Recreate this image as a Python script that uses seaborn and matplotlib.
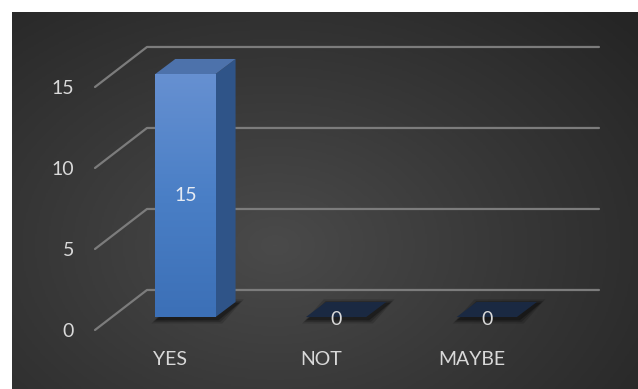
import numpy as np
import pandas as pd
import matplotlib
matplotlib.use('Agg')
import matplotlib.pyplot as plt
import seaborn as sns
from matplotlib.patches import Polygon
from matplotlib.transforms import Affine2D
from matplotlib.colors import LinearSegmentedColormap

# data
answers = ['YES', 'NOT', 'MAYBE']
counts = [15, 0, 0]
yticks = [0, 5, 10, 15]

df = pd.DataFrame({'answer': answers, 'count': counts})

sns.set_theme(style='dark')
plt.rcParams['font.family'] = ['Lato', 'DejaVu Sans']

# depth of the 3d floor and of the bars (in data units)
DX, DY = 0.345, 2.47
BX, BY = 0.10, 0.80
WX, WY = 0.133, 0.93

fig = plt.figure(figsize=(6.38, 3.89), dpi=100)
fig.patch.set_facecolor('white')

# dark gradient panel
bg = fig.add_axes([12 / 638, 0, 626 / 638, 377 / 389])
gx, gy = np.meshgrid(np.linspace(0, 1, 400), np.linspace(0, 1, 250))
r = np.sqrt(((gx - 0.42) / 0.85) ** 2 + ((gy - 0.62) / 1.0) ** 2)
shade = np.clip(1 - r / 0.9, 0, 1)
bg_cmap = LinearSegmentedColormap.from_list('bg', ['#252525', '#373737', '#4a4a4a'])
bg.imshow(shade, cmap=bg_cmap, extent=[0, 1, 0, 1], aspect='auto', origin='upper')
bg.axis('off')

# front plane of the chart
ax = fig.add_axes([95 / 638, 59 / 389, 452 / 638, 243 / 389])
ax.patch.set_alpha(0)
sns.barplot(data=df, x='answer', y='count', order=answers, width=0.4,
            color='#4a7fc6', saturation=1, ax=ax)

# back wall grid lines + diagonals on the side wall
for t in yticks:
    ax.plot([-0.5, -0.5 + DX, 2.5 + DX], [t, t + DY, t + DY],
            color='#7c7c7c', lw=1.6, clip_on=False, zorder=1)

front_cmap = LinearSegmentedColormap.from_list('front', ['#3c70b7', '#4a7fc6', '#6690d1'])
shift = Affine2D().translate(BX, BY) + ax.transData

for p, v in zip(ax.patches, counts):
    x0, w, h = p.get_x(), p.get_width(), p.get_height()
    xl, xr = x0 + BX, x0 + w + BX
    # soft shadow on the floor
    for k, a in [(0.035, 0.15), (0.022, 0.2), (0.01, 0.3)]:
        ax.add_patch(Polygon([(xl + 0.01 - k, BY - 0.12 - k * 8),
                              (xr + 0.01 + k, BY - 0.12 - k * 8),
                              (xr + WX + 0.02 + k, BY + WY - 0.12 + k * 8),
                              (xl + WX + 0.02 - k, BY + WY - 0.12 + k * 8)],
                             closed=True, color='black', alpha=a, lw=0,
                             clip_on=False, zorder=1.5))
    if h > 0:
        p.set_transform(shift)
        p.set_clip_on(False)
        p.set_zorder(3)
        p.set_edgecolor('none')
        grad = np.linspace(1, 0, 100).reshape(-1, 1)
        im = ax.imshow(grad, cmap=front_cmap, extent=[xl, xr, BY, BY + h],
                       aspect='auto', zorder=3.1)
        im.set_clip_path(p)
        # side face
        ax.add_patch(Polygon([(xr, BY), (xr + WX, BY + WY), (xr + WX, BY + WY + h), (xr, BY + h)],
                             closed=True, color='#2f5488', lw=0, clip_on=False, zorder=3))
        # top face
        ax.add_patch(Polygon([(xl, BY + h), (xr, BY + h), (xr + WX, BY + h + WY), (xl + WX, BY + h + WY)],
                             closed=True, color='#4d72ab', lw=0, clip_on=False, zorder=3))
        label_color = '#e6ebf3'
    else:
        p.set_visible(False)
        ax.add_patch(Polygon([(xl, BY), (xr, BY), (xr + WX, BY + WY), (xl + WX, BY + WY)],
                             closed=True, color='#1a2942', lw=0, clip_on=False, zorder=3))
        label_color = '#d9d9d9'
    ax.text((xl + xr) / 2, BY + h / 2 - (0.15 if h == 0 else 0), str(v),
            ha='center', va='center', color=label_color, fontsize=14, zorder=4,
            clip_on=False)

ax.set_xlim(-0.5, 2.5)
ax.set_ylim(0, 15)
ax.set_yticks(yticks)
ax.set_xlabel('')
ax.set_ylabel('')
ax.grid(False)
for s in ax.spines.values():
    s.set_visible(False)
ax.tick_params(axis='both', colors='#d9d9d9', length=0, labelsize=14)
ax.tick_params(axis='y', pad=15)
ax.tick_params(axis='x', pad=15)

fig.savefig('out.png', dpi=100, facecolor=fig.get_facecolor())
